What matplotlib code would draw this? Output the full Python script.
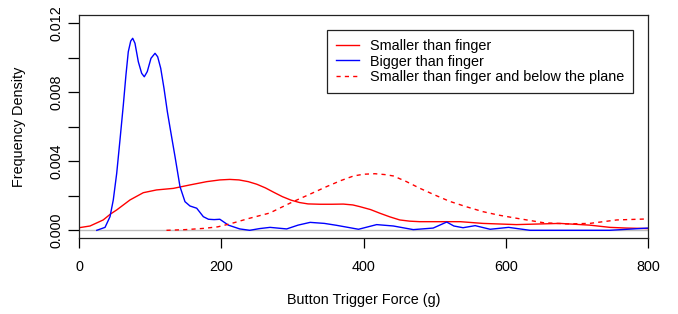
import matplotlib
matplotlib.use("Agg")
import matplotlib.pyplot as plt

# density curves
smaller_x = [0, 15.5, 34, 44.5, 53, 71.7, 90.4, 109, 132.6, 156, 179.5, 198, 212, 225,
             238, 250, 262, 274, 286, 298, 310, 322, 339, 355, 371.6, 385, 395, 410, 423,
             437, 451, 465, 479, 536, 568, 615, 676, 718, 746.5, 770, 800]
smaller_y = [0.00015, 0.00025, 0.0006, 0.00095, 0.00118, 0.00176, 0.00218, 0.00234, 0.00243,
             0.00263, 0.00282, 0.00292, 0.00295, 0.00292, 0.00282, 0.00267, 0.00246, 0.0022,
             0.00195, 0.00175, 0.00161, 0.00153, 0.00151, 0.00151, 0.00152, 0.00147,
             0.00137, 0.0012, 0.00099, 0.00078, 0.0006, 0.00053, 0.0005, 0.0005, 0.0004,
             0.00033, 0.0004, 0.0003, 0.00017, 0.00013, 0.0001]

bigger_x = [25, 36.6, 43.6, 48.2, 53, 57.6, 62.3, 66, 69.3, 72.7, 75.5, 78.7, 83.4, 88.1,
            91.8, 96, 101.2, 106.9, 110.6, 114.9, 119.5, 124.2, 128, 135, 142, 149, 156,
            165.5, 174.8, 182, 190, 198, 210, 226, 240, 254, 268.6, 292, 308, 325, 345,
            362, 393, 418.5, 442, 470, 498, 517, 527, 540, 557, 578, 604, 634, 700, 746, 800]
bigger_y = [0, 0.00017, 0.00079, 0.00176, 0.0033, 0.00523, 0.00726, 0.009, 0.01035, 0.01097,
            0.01113, 0.01084, 0.00977, 0.0091, 0.0089, 0.0092, 0.00997, 0.01026, 0.01006,
            0.00939, 0.00823, 0.00688, 0.00595, 0.00427, 0.00253, 0.00166, 0.00141,
            0.00128, 0.00079, 0.00064, 0.00062, 0.00064, 0.0003, 0.00008, 0.0, 0.0001,
            0.00017, 0.00008, 0.0003, 0.00046, 0.0004, 0.00029, 0.00006, 0.00033, 0.00025,
            0.00004, 0.00013, 0.00048, 0.00025, 0.00015, 0.00027, 0.00006, 0.00017, 0.0,
            0.0, 0.0, 0.00013]

below_x = [123, 150, 175, 195, 212, 240, 268, 301, 325, 348, 368, 386, 400, 416, 430, 442,
           460, 479.5, 500, 521, 545, 568, 590, 615, 653, 686, 718, 756, 800]
below_y = [0, 0.00004, 0.00011, 0.0002, 0.00037, 0.0007, 0.001, 0.00166, 0.0021, 0.00253,
           0.00288, 0.00315, 0.00325, 0.00328, 0.00323, 0.00315, 0.00283, 0.00243, 0.00205,
           0.00168, 0.00136, 0.00108, 0.00088, 0.0007, 0.00044, 0.00037, 0.0004, 0.0006,
           0.00066]

x_ticks = [0, 200, 400, 600, 800]
y_ticks = [0, 0.002, 0.004, 0.006, 0.008, 0.010, 0.012]
y_labels = ["0.000", "", "0.004", "", "0.008", "", "0.012"]

plt.rcParams['font.family'] = ['Liberation Sans', 'DejaVu Sans']
fs = 10.4

fig = plt.figure(figsize=(6.78, 3.14), dpi=100)
ax = fig.add_axes([79 / 678, (314 - 238) / 314, 569 / 678, 223 / 314])

ax.axhline(0, color='#BEBEBE', lw=1.0, zorder=1)
ax.plot(smaller_x, smaller_y, color='#FF0000', lw=1.0, label='Smaller than finger')
ax.plot(bigger_x, bigger_y, color='#0000FF', lw=1.0, label='Bigger than finger')
ax.plot(below_x, below_y, color='#FF0000', lw=1.0, linestyle=(0, (3, 3)),
        label='Smaller than finger and below the plane')

ax.set_xlim(0, 800)
ax.set_ylim(-0.000446, 0.01248)
ax.set_xticks(x_ticks)
ax.set_xticklabels([str(t) for t in x_ticks])
ax.set_yticks(y_ticks)
ax.set_yticklabels(y_labels, rotation=90, va='center')
ax.tick_params(axis='x', length=7.5, width=0.9, pad=8.5, labelsize=fs)
ax.tick_params(axis='y', length=8, width=0.9, pad=3.5, labelsize=fs)
for sp in ax.spines.values():
    sp.set_linewidth(0.9)
    sp.set_color('#222222')

ax.set_xlabel('Button Trigger Force (g)', fontsize=fs)
ax.xaxis.set_label_coords(0.5, -0.247)
ax.set_ylabel('Frequency Density', fontsize=fs)
ax.yaxis.set_label_coords(-0.093, 0.5)

leg = ax.legend(loc='upper right', bbox_to_anchor=((633 - 79) / 569, (238 - 30) / 223),
                borderaxespad=0, fontsize=fs, frameon=True, fancybox=False,
                edgecolor='#222222', framealpha=1, handlelength=1.6, handletextpad=0.75,
                labelspacing=0.13, borderpad=0.6)
leg.get_frame().set_linewidth(0.9)

fig.savefig('out.png', dpi=100)
